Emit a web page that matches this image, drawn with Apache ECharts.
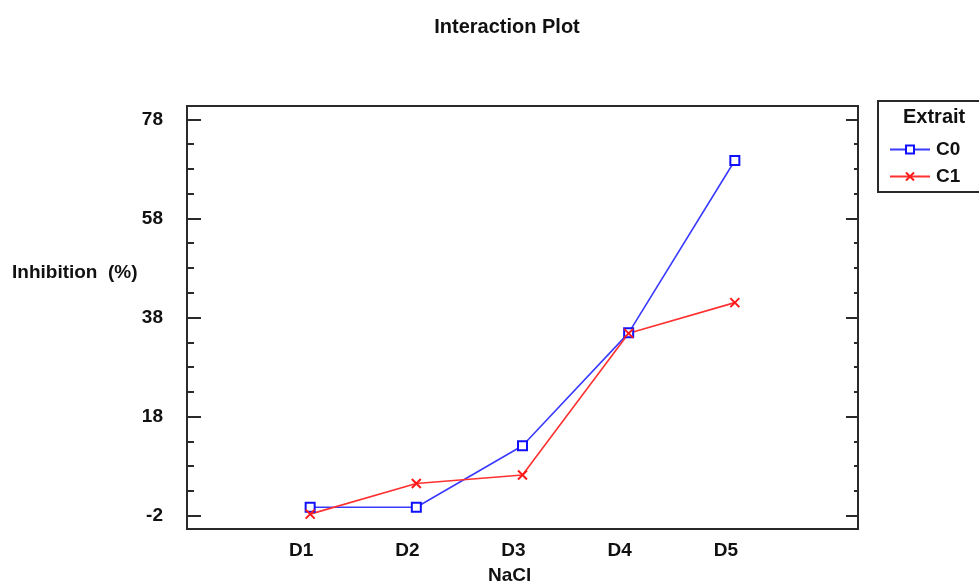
<!DOCTYPE html>
<html><head><meta charset="utf-8">
<script src="https://cdn.jsdelivr.net/npm/echarts@6/dist/echarts.min.js"></script>
<style>html,body{margin:0;padding:0;background:#fff}#c{width:979px;height:587px}</style>
</head><body><div id="c"></div>
<script>
const categories = ['D1','D2','D3','D4','D5'];
const seriesNames = ['C0','C1'];
const c0 = [-0.3, -0.3, 12.1, 34.9, 69.7];
const c1 = [-1.7, 4.5, 6.2, 34.8, 41.0];
const yMajor = [-2, 18, 38, 58, 78];
const yMinor = [3, 8, 13, 23, 28, 33, 43, 48, 53, 63, 68, 73];

const FONT = "'Liberation Sans', Arial, sans-serif";
const AX = '#2a2a2a';
const yMin = -4.7, yMax = 80.7;
const chart = echarts.init(document.getElementById('c'));
function yAx(pos, ticks, len, labels) {
  return {
    type: 'value', position: pos, min: yMin, max: yMax,
    axisLine: {show: false, onZero: false},
    splitLine: {show: false},
    axisTick: {show: true, inside: true, length: len, customValues: ticks, lineStyle: {color: AX, width: 2}},
    axisLabel: labels ? {show: true, customValues: yMajor, margin: 24, fontFamily: FONT, fontWeight: 'bold', fontSize: 19, color: '#111'} : {show: false}
  };
}
const xPts = categories.map((_, i) => i);
chart.setOption({
  animation: false,
  backgroundColor: '#fff',
  title: {text: 'Interaction Plot', left: 502, top: 12, textAlign: 'center',
    textStyle: {fontFamily: FONT, fontWeight: 'bold', fontSize: 20, color: '#111'}},
  grid: {left: 187, right: 121, top: 106, bottom: 58, show: true, borderColor: AX, borderWidth: 2, backgroundColor: 'transparent'},
  xAxis: {type: 'value', min: -1.16, max: 5.16,
    axisLine: {show: true, onZero: false, lineStyle: {color: AX, width: 2}},
    axisTick: {show: false}, splitLine: {show: false},
    axisLabel: {customValues: xPts, formatter: v => categories[Math.round(v)] || '', margin: 12, padding: [0, 18, 0, 0],
      fontFamily: FONT, fontWeight: 'bold', fontSize: 19, color: '#111'}},
  yAxis: [yAx('left', yMajor, 14, true), yAx('left', yMinor, 7, false), yAx('right', yMajor, 12, false), yAx('right', yMinor, 4, false)],
  legend: {data: seriesNames, orient: 'vertical', left: 884, top: 135, itemWidth: 40, itemHeight: 10, itemGap: 8,
    textStyle: {fontFamily: FONT, fontWeight: 'bold', fontSize: 19, color: '#111', padding: [0, 0, 0, 1]}},
  graphic: [
    {type: 'rect', left: 877, top: 100, z: -1, shape: {width: 120, height: 91}, style: {fill: '#fff', stroke: AX, lineWidth: 2}},
    {type: 'text', left: 903, top: 107, style: {text: 'Extrait', fontFamily: FONT, fontWeight: 'bold', fontSize: 20, fill: '#111'}},
    {type: 'text', left: 12, top: 263, style: {text: 'Inhibition  (%)', fontFamily: FONT, fontWeight: 'bold', fontSize: 19, fill: '#111'}},
    {type: 'text', left: 488, top: 566, style: {text: 'NaCl', fontFamily: FONT, fontWeight: 'bold', fontSize: 19, fill: '#111'}}
  ],
  series: [
    {name: 'C0', type: 'line', yAxisIndex: 0, data: c0.map((v, i) => [i, v]),
      symbol: 'rect', symbolSize: 9,
      lineStyle: {color: '#3a3aff', width: 1.6},
      itemStyle: {color: '#fff', borderColor: '#1010ff', borderWidth: 2}},
    {name: 'C1', type: 'line', yAxisIndex: 0, data: c1.map((v, i) => [i, v]),
      symbol: 'path://M0,0L10,10M10,0L0,10', symbolSize: 9,
      lineStyle: {color: '#ff3030', width: 1.6},
      itemStyle: {color: 'none', borderColor: '#ff1a1a', borderWidth: 2}}
  ]
});
</script></body></html>
